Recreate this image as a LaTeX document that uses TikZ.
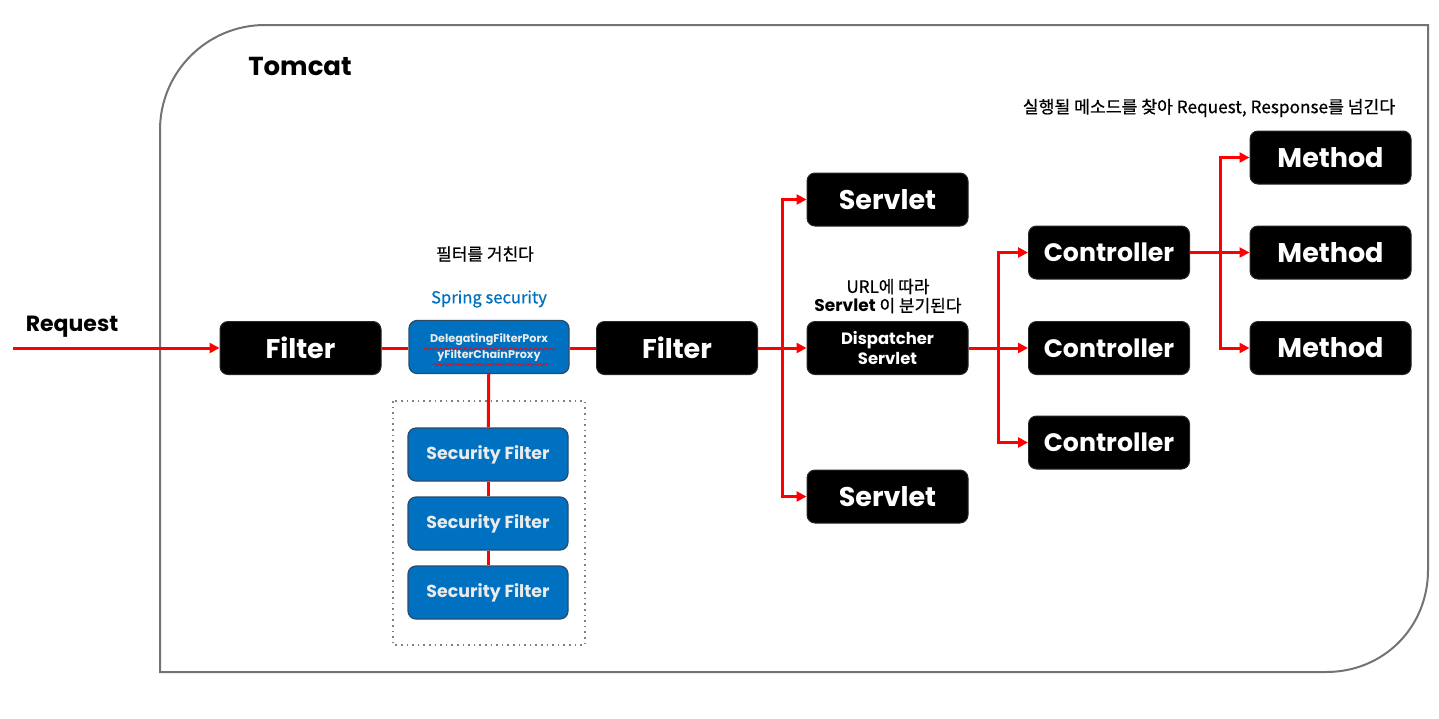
\documentclass[tikz,border=0pt]{standalone}
\usepackage{fontspec}
\setmainfont{Poppins}
\newfontfamily\kr{Noto Sans CJK KR}[FakeBold=0.6]
\newfontfamily\pop{Poppins}
\usetikzlibrary{arrows.meta,decorations.pathmorphing}
\definecolor{secblue}{HTML}{0070C0}
\definecolor{boxedge}{HTML}{2A4A6A}
\begin{document}
\begin{tikzpicture}[x=0.5pt,y=-0.5pt,
  blk/.style={fill=black, draw=black!85, line width=0.5pt, rounded corners=4pt, minimum width=80.5pt, minimum height=26.5pt, text=white, inner sep=0pt, font=\bfseries\fontsize{13.5}{15}\selectfont},
  bluebox/.style={fill=secblue, draw=boxedge, line width=0.6pt, rounded corners=4pt, minimum width=80pt, minimum height=26.5pt, text=white!92!black, inner sep=0pt, font=\bfseries\fontsize{8.7}{10}\selectfont},
  flow/.style={draw=red, line width=1.5pt},
  arr/.style={flow, -{Triangle[length=5pt,width=5pt]}},
  lbl/.style={inner sep=0pt},
  squig/.style={red, line width=0.35pt, decorate, decoration={snake, amplitude=0.5pt, segment length=2.5pt}}
]
\useasboundingbox (0,0) rectangle (1439,718);
% Tomcat container
\draw[gray!90!black, line width=1pt] (160,672) -- (160,130) .. controls (160,72) and (207,25) .. (265,25) -- (1428,25) -- (1428,570) .. controls (1428,627) and (1384,672) .. (1326,672) -- cycle;
% dotted security chain box
\draw[gray, dotted, line width=0.8pt] (393,401) rectangle (585,645);

% nodes
\node[blk] (f1) at (300.5,348) {Filter};
\node[bluebox, font=\bfseries\fontsize{5.6}{8}\selectfont, align=center] (dfp) at (489,347) {DelegatingFilterPorx\\yFilterChainProxy};
\node[blk] (f2) at (677,348) {Filter};
\node[blk] (sv1) at (887.5,199.5) {Servlet};
\node[blk, align=center, font=\bfseries\fontsize{8.2}{10}\selectfont] (ds) at (887.5,348) {Dispatcher\\Servlet};
\node[blk] (sv2) at (887.5,496.5) {Servlet};
\node[blk, font=\bfseries\fontsize{12.6}{15}\selectfont] (c1) at (1109,252.5) {Controller};
\node[blk, font=\bfseries\fontsize{12.6}{15}\selectfont] (c2) at (1109,348) {Controller};
\node[blk, font=\bfseries\fontsize{12.6}{15}\selectfont] (c3) at (1109,442.5) {Controller};
\node[blk] (m1) at (1330.5,157.5) {Method};
\node[blk] (m2) at (1330.5,252.5) {Method};
\node[blk] (m3) at (1330.5,348) {Method};
\node[bluebox] (s1) at (488,454.5) {Security Filter};
\node[bluebox] (s2) at (488,523.5) {Security Filter};
\node[bluebox] (s3) at (488,592.5) {Security Filter};

% spell-check squiggles
\draw[squig] (424,349) -- (556,349);
\draw[squig] (433,364.5) -- (547,364.5);

% labels
\node[lbl, font=\bfseries\fontsize{11}{13}\selectfont] (reqlbl) at (72,327) {Request};
\node[lbl, font=\bfseries\fontsize{13}{15}\selectfont] (tom) at (300,66) {Tomcat};
\node[lbl, font=\kr\fontsize{8.5}{10}\selectfont] (t1) at (485,254) {필터를 거친다};
\node[lbl, text=secblue, font=\kr\fontsize{8.3}{10}\selectfont] (t2) at (489,299) {Spring security};
\node[lbl, align=center, font=\kr\fontsize{8.5}{9.5}\selectfont] (t3) at (888,296) {URL에 따라\\{\pop\bfseries Servlet} 이 분기된다};
\node[lbl, font=\kr\fontsize{8.6}{10}\selectfont] (t4) at (1209,108) {실행될 메소드를 찾아 Request, Response를 넘긴다};

% connectors
\coordinate (req) at (13,348);
\coordinate (b1) at (782,348);
\coordinate (b2) at (998,348);
\coordinate (b3) at (1220,252.5);
\draw[arr] (req) -- (f1);
\draw[flow] (f1) -- (dfp.west |- f1);
\draw[flow] (dfp.east |- f2) -- (f2);
\draw[arr] (f2) -- (ds);
\draw[arr] (b1) |- (sv1);
\draw[arr] (b1) |- (sv2);
\draw[arr] (ds) -- (c2);
\draw[arr] (b2) |- (c1);
\draw[arr] (b2) |- (c3);
\draw[arr] (c1) -- (m2);
\draw[arr] (b3) |- (m1);
\draw[arr] (b3) |- (m3);
\draw[flow] (dfp) -- (s1);
\draw[flow] (s1) -- (s2);
\draw[flow] (s2) -- (s3);
\end{tikzpicture}
\end{document}
